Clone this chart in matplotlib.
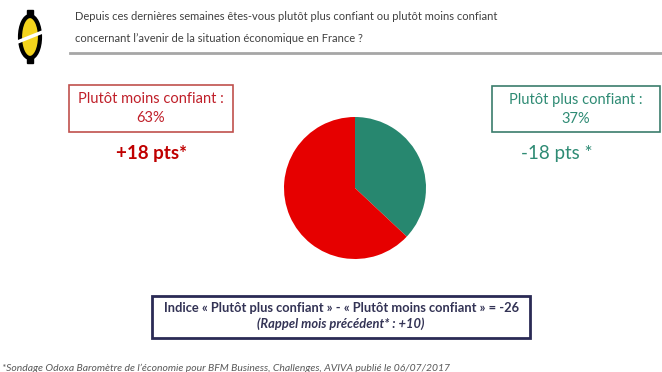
import matplotlib.pyplot as plt
from matplotlib.patches import Rectangle, Ellipse

# data
labels = ["Plutôt plus confiant", "Plutôt moins confiant"]
values = [37, 63]
deltas = ["-18 pts *", "+18 pts*"]
indice = -26
rappel = "+10"

green = '#27876f'
red = '#e60000'
font = 'Lato'

fig = plt.figure(figsize=(6.62, 3.72), dpi=100)
ax = fig.add_axes([0, 0, 1, 1])
ax.set_xlim(0, 662)
ax.set_ylim(372, 0)
ax.axis('off')

# header
ax.text(75, 17, "Depuis ces dernières semaines êtes-vous plutôt plus confiant ou plutôt moins confiant",
        fontsize=8.0, family=font, color='#404040', va='center')
ax.text(75, 39, "concernant l’avenir de la situation économique en France ?",
        fontsize=8.0, family=font, color='#404040', va='center')
ax.plot([70, 662], [53, 53], color='#a6a6a6', lw=2)

# logo
ax.add_patch(Rectangle((27, 10), 6, 6, color='black'))
ax.add_patch(Rectangle((27, 57), 6, 6, color='black'))
ax.add_patch(Ellipse((30, 37), 20, 42, facecolor='#f3d31c', edgecolor='black', lw=3))
ax.plot([15, 45], [43, 31], color='white', lw=2.5)

# left box
ax.add_patch(Rectangle((69, 85), 164, 47, fill=False, edgecolor='#c0504d', lw=1.2))
ax.text(151, 99, labels[1] + " :", fontsize=10.5, family=font, color='#c0202a', ha='center', va='center')
ax.text(151, 118, f"{values[1]}%", fontsize=10.5, family=font, color='#c0202a', ha='center', va='center')
ax.text(151, 154, deltas[1], fontsize=13.5, family=font, color='#c00000', ha='center', va='center',
        fontweight='bold')

# right box
ax.add_patch(Rectangle((492, 86), 168, 46, fill=False, edgecolor='#3b7d6c', lw=1.2))
ax.text(576, 100, labels[0] + " :", fontsize=10.5, family=font, color='#2e8b74', ha='center', va='center')
ax.text(576, 119, f"{values[0]}%", fontsize=10.5, family=font, color='#2e8b74', ha='center', va='center')
ax.text(557, 154, deltas[0], fontsize=13.5, family=font, color='#2e8b74', ha='center', va='center')

# bottom box
ax.add_patch(Rectangle((152, 296), 378, 42, fill=False, edgecolor='#2a2a55', lw=2))
ax.text(341, 308, f"Indice « {labels[0]} » - « {labels[1]} » = {indice}", fontsize=9.3, family=font,
        color='#333355', ha='center', va='center', fontweight='bold')
ax.text(341, 324, f"(Rappel mois précédent* : {rappel})", fontsize=9.3, family=font,
        color='#333355', ha='center', va='center', fontweight='bold', style='italic')

# footnote
ax.text(2, 368, "*Sondage Odoxa Baromètre de l’économie pour BFM Business, Challenges, AVIVA publié le 06/07/2017",
        fontsize=7.5, family=font, color='#595959', va='center', style='italic')

# pie
cx, cy, r = 355, 188, 71
pax = fig.add_axes([(cx - r) / 662, 1 - (cy + r) / 372, 2 * r / 662, 2 * r / 372])
pax.pie(values, colors=[green, red], startangle=90, counterclock=False,
        wedgeprops=dict(linewidth=0))
pax.set_xlim(-1, 1)
pax.set_ylim(-1, 1)
pax.set_aspect('auto')

fig.savefig('out.png', dpi=100)
